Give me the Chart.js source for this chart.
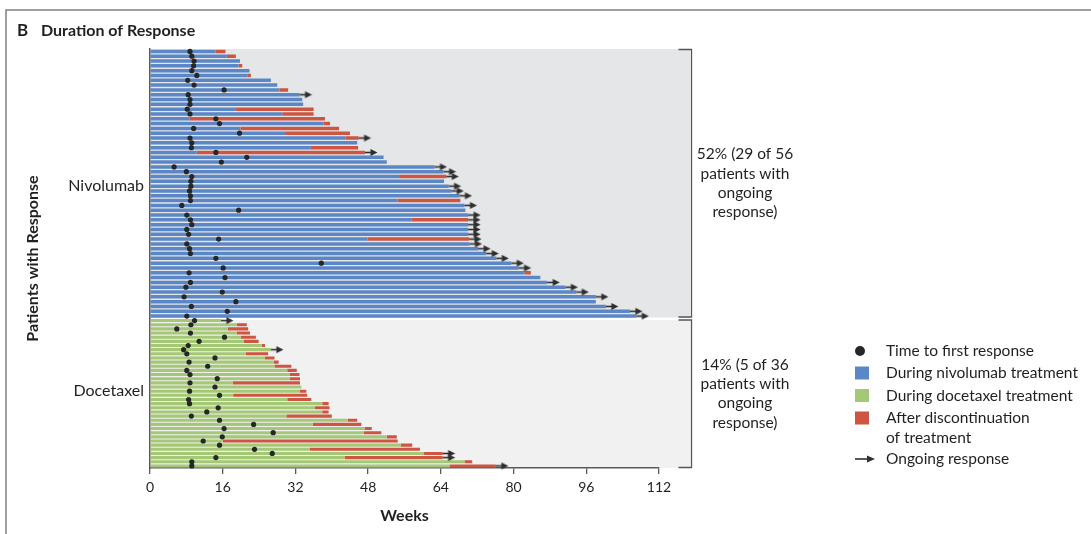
<!DOCTYPE html>
<html>
<head>
<meta charset="utf-8">
<script src="https://cdn.jsdelivr.net/npm/chart.js@4/dist/chart.umd.min.js"></script>
<style>
html,body{margin:0;padding:0;background:#fff;}
#wrap{position:relative;width:1091px;height:534px;}
canvas{display:block;}
</style>
</head>
<body>
<div id="wrap"><canvas id="c" width="1091" height="534"></canvas></div>
<script>
// ---------- DATA (weeks) ----------
const groupLabels = ['Nivolumab', 'Docetaxel'];
const xTicks = [0, 16, 32, 48, 64, 80, 96, 112];

// Nivolumab (56 patients, top to bottom)
const nivoTreatmentEnd = [14.4,16.9,19.8,19.5,21.9,21.4,26.6,28.0,28.5,32.9,
  33.5,33.7,18.9,29.1,8.7,38.2,19.9,29.7,43.0,45.6,
  35.4,10.3,51.4,52.1,62.6,64.6,54.8,64.7,65.7,66.3,
  68.1,54.5,69.2,69.4,70.0,57.5,70.0,70.0,70.0,47.9,
  70.3,72.2,74.0,76.2,79.5,81.1,82.4,85.9,87.4,91.4,
  93.8,98.1,98.1,100.3,105.6,107.0];
const nivoResponseEnd = [16.6,18.9,19.8,20.3,21.9,22.2,26.6,28.0,30.4,32.9,
  33.5,33.7,36.0,36.0,38.5,39.6,41.6,44.0,45.9,45.6,
  45.8,47.3,51.4,52.1,62.6,64.6,65.2,64.7,65.7,66.3,
  68.1,68.3,69.2,69.4,70.0,70.0,70.0,70.0,70.0,70.2,
  70.3,72.2,74.0,76.2,79.5,81.1,83.8,85.9,87.4,91.4,
  93.8,98.1,98.1,100.3,105.6,107.0];
const nivoFirstResponse = [8.8,9.2,9.7,9.6,9.2,10.3,8.3,9.7,16.3,8.4,
  8.8,8.8,8.2,8.8,14.5,15.3,9.6,19.7,8.8,9.2,
  9.1,14.5,21.3,15.7,5.3,8.0,9.2,9.0,9.0,8.7,
  8.9,8.9,7.0,19.5,8.1,8.9,9.2,8.1,8.5,15.1,
  8.1,8.7,8.9,14.5,37.7,16.1,8.6,16.5,8.9,7.9,
  15.9,7.5,18.9,9.1,17.0,8.1];
const nivoOngoing = [0,0,0,0,0,0,0,0,0,1,
  0,0,0,0,0,0,0,0,1,0,
  0,1,0,0,1,1,1,0,1,1,
  1,0,1,0,1,1,1,1,1,1,
  1,1,1,1,1,1,0,0,1,1,
  1,1,0,1,1,1];

// Docetaxel (36 patients, top to bottom)
const doceTreatmentEnd = [15.6,19.1,17.1,19.1,20.0,20.6,24.6,26.6,21.1,25.3,
  27.2,27.4,30.2,30.7,30.7,18.2,33.3,33.0,18.3,30.2,
  37.9,36.3,37.9,30.0,43.5,35.8,47.2,47.0,52.1,16.0,
  55.2,35.1,60.3,42.8,69.2,65.9];
const doceResponseEnd = [15.6,21.3,21.6,22.0,23.3,23.9,25.3,26.6,26.0,27.4,
  28.3,31.1,32.3,32.9,33.0,33.0,33.3,34.4,34.6,35.5,
  39.3,39.5,39.3,40.0,45.6,46.5,48.8,50.9,54.3,54.5,
  57.7,59.4,64.4,64.4,70.9,76.1];
const doceFirstResponse = [9.8,9.0,5.9,8.9,16.4,10.8,8.4,7.4,8.1,14.3,
  8.6,12.7,8.1,8.8,14.8,8.8,14.3,8.7,15.3,8.5,
  8.7,15.0,12.5,9.1,15.3,22.8,16.3,27.1,15.9,11.7,
  15.3,23.0,26.9,14.5,9.2,9.2];
const doceOngoing = [1,0,0,0,0,0,0,1,0,0,
  0,0,0,0,0,0,0,0,0,0,
  0,0,0,0,0,0,0,0,0,0,
  0,0,1,1,0,1];

const nivoNote = ['52% (29 of 56', 'patients with', 'ongoing', 'response)'];
const doceNote = ['14% (5 of 36', 'patients with', 'ongoing', 'response)'];
const legendItems = ['Time to first response', 'During nivolumab treatment', 'During docetaxel treatment', ['After discontinuation', 'of treatment'], 'Ongoing response'];

// ---------- STYLE ----------
const C = {
  blue: '#5b87c6', green: '#a5c876', red: '#cd5541', dot: '#262626', arrow: '#2e2e2e',
  bgN: '#e5e6e8', bgD: '#f1f1f2', text: '#231f20', axis: '#5a5a5a', frame: '#808080'
};
const FONT = 'Lato';

const nivoPatients = nivoTreatmentEnd.map((_, i) => 'N' + (i + 1));
const docePatients = doceTreatmentEnd.map((_, i) => 'D' + (i + 1));

function makeArrow(color) {
  const c = document.createElement('canvas');
  c.width = 26; c.height = 9;
  const g = c.getContext('2d');
  g.strokeStyle = color; g.lineWidth = 1.6;
  g.beginPath(); g.moveTo(13, 4.5); g.lineTo(20, 4.5); g.stroke();
  g.fillStyle = color;
  g.beginPath(); g.moveTo(18.5, 1); g.lineTo(25.5, 4.5); g.lineTo(18.5, 8); g.closePath(); g.fill();
  return c;
}

function draw() {
  const arrowImg = makeArrow(C.arrow);
  const barCommon = { type: 'bar', xAxisID: 'x', grouped: false, barPercentage: 0.74, categoryPercentage: 1, borderWidth: 0 };
  const dotCommon = { type: 'scatter', xAxisID: 'x', pointRadius: 2.6, pointBackgroundColor: C.dot, pointBorderWidth: 0 };
  const arrowCommon = { type: 'scatter', xAxisID: 'x', pointStyle: arrowImg, pointRadius: 4, pointBorderWidth: 0 };

  const datasets = [
    Object.assign({}, dotCommon, { label: 'Time to first response', yAxisID: 'yN',
      data: nivoFirstResponse.map((v, i) => ({ x: v, y: nivoPatients[i] })) }),
    Object.assign({}, dotCommon, { label: 'Time to first response (docetaxel)', yAxisID: 'yD',
      data: doceFirstResponse.map((v, i) => ({ x: v, y: docePatients[i] })) }),
    Object.assign({}, arrowCommon, { label: 'Ongoing response', yAxisID: 'yN',
      data: nivoResponseEnd.map((v, i) => nivoOngoing[i] ? { x: v, y: nivoPatients[i] } : null).filter(Boolean) }),
    Object.assign({}, arrowCommon, { label: 'Ongoing response (docetaxel)', yAxisID: 'yD',
      data: doceResponseEnd.map((v, i) => doceOngoing[i] ? { x: v, y: docePatients[i] } : null).filter(Boolean) }),
    Object.assign({}, barCommon, { label: 'During nivolumab treatment', yAxisID: 'yN', backgroundColor: C.blue,
      data: nivoTreatmentEnd.map(v => [0, v]) }),
    Object.assign({}, barCommon, { label: 'After discontinuation of treatment', yAxisID: 'yN', backgroundColor: C.red,
      data: nivoResponseEnd.map((v, i) => v > nivoTreatmentEnd[i] ? [nivoTreatmentEnd[i], v] : null) }),
    Object.assign({}, barCommon, { label: 'During docetaxel treatment', yAxisID: 'yD', backgroundColor: C.green,
      data: doceTreatmentEnd.map(v => [0, v]) }),
    Object.assign({}, barCommon, { label: 'After discontinuation (docetaxel)', yAxisID: 'yD', backgroundColor: C.red,
      data: doceResponseEnd.map((v, i) => v > doceTreatmentEnd[i] ? [doceTreatmentEnd[i], v] : null) })
  ];

  const decor = {
    id: 'decor',
    beforeDraw(chart) {
      const { ctx, chartArea: ca, scales } = chart;
      const yN = scales.yN, yD = scales.yD;
      const right = ca.right + 31;
      ctx.save();
      ctx.fillStyle = C.bgN;
      ctx.fillRect(ca.left, yN.top, right - ca.left, yN.bottom - yN.top - 1);
      ctx.fillStyle = C.bgD;
      ctx.fillRect(ca.left, yD.top + 1.5, right - ca.left, yD.bottom - yD.top - 1.5);
      ctx.restore();
    },
    afterDraw(chart) {
      const { ctx, chartArea: ca, scales } = chart;
      const yN = scales.yN, yD = scales.yD;
      ctx.save();
      // frame
      ctx.strokeStyle = C.frame; ctx.lineWidth = 1.5;
      ctx.beginPath(); ctx.moveTo(6, 534); ctx.lineTo(6, 10); ctx.lineTo(1091, 10); ctx.stroke();
      // title
      ctx.fillStyle = C.text; ctx.textBaseline = 'alphabetic'; ctx.textAlign = 'left';
      ctx.font = 'bold 17px ' + FONT;
      ctx.fillText('B', 17, 35.5);
      ctx.font = 'bold 16px ' + FONT;
      ctx.fillText('Duration of Response', 41, 35.5);
      // y title
      ctx.save();
      ctx.translate(33, (yN.top + yD.bottom) / 2);
      ctx.rotate(-Math.PI / 2);
      ctx.textAlign = 'center'; ctx.textBaseline = 'middle';
      ctx.font = 'bold 16px ' + FONT;
      ctx.fillText('Patients with Response', 0, 0);
      ctx.restore();
      // brackets
      const bx = ca.right + 32.5;
      ctx.strokeStyle = '#555'; ctx.lineWidth = 1.3;
      const b1 = yN.top + 0.5, b2 = yN.bottom - 1.5, b3 = yD.top + 1.5, b4 = yD.bottom - 0.5;
      ctx.beginPath();
      ctx.moveTo(bx - 13, b1); ctx.lineTo(bx, b1); ctx.lineTo(bx, b2); ctx.lineTo(bx - 13, b2);
      ctx.moveTo(bx - 13, b3); ctx.lineTo(bx, b3); ctx.lineTo(bx, b4); ctx.lineTo(bx - 13, b4);
      ctx.stroke();
      // notes
      ctx.fillStyle = C.text; ctx.textAlign = 'center'; ctx.textBaseline = 'middle';
      ctx.font = '15.5px ' + FONT;
      const nx = ca.right + 86;
      const lh = 19.2;
      const c1 = (b1 + b2) / 2, c2 = (b3 + b4) / 2;
      nivoNote.forEach((t, i) => ctx.fillText(t, nx, c1 + (i - 1.5) * lh));
      doceNote.forEach((t, i) => ctx.fillText(t, nx, c2 + (i - 1.5) * lh));
      // legend
      ctx.textAlign = 'left';
      ctx.font = '15.5px ' + FONT;
      const lx = 855, tx = 886;
      const ly = [351, 373, 395.5, 418, 459];
      ctx.fillStyle = C.dot;
      ctx.beginPath(); ctx.arc(lx + 5, ly[0], 5, 0, Math.PI * 2); ctx.fill();
      [C.blue, C.green, C.red].forEach((col, i) => {
        ctx.fillStyle = col; ctx.fillRect(lx, ly[i + 1] - 6.5, 14, 13);
      });
      ctx.strokeStyle = C.arrow; ctx.lineWidth = 1.6;
      ctx.beginPath(); ctx.moveTo(lx, ly[4]); ctx.lineTo(lx + 13, ly[4]); ctx.stroke();
      ctx.fillStyle = C.arrow;
      ctx.beginPath(); ctx.moveTo(lx + 12, ly[4] - 3.5); ctx.lineTo(lx + 20, ly[4]); ctx.lineTo(lx + 12, ly[4] + 3.5); ctx.closePath(); ctx.fill();
      ctx.fillStyle = C.text;
      ctx.fillText(legendItems[0], tx, ly[0]);
      ctx.fillText(legendItems[1], tx, ly[1]);
      ctx.fillText(legendItems[2], tx, ly[2]);
      ctx.fillText(legendItems[3][0], tx, ly[3]);
      ctx.fillText(legendItems[3][1], tx, ly[3] + 19.5);
      ctx.fillText(legendItems[4], tx, ly[4]);
      ctx.restore();
    }
  };

  new Chart(document.getElementById('c'), {
    type: 'bar',
    data: { datasets },
    plugins: [decor],
    options: {
      indexAxis: 'y',
      responsive: false,
      animation: false,
      events: [],
      devicePixelRatio: 1,
      layout: { padding: { top: 49, right: 432, bottom: 0, left: 0 } },
      plugins: { legend: { display: false }, tooltip: { enabled: false }, title: { display: false } },
      scales: {
        x: {
          type: 'linear', axis: 'x', position: 'bottom', min: 0, max: 112,
          afterBuildTicks: s => { s.ticks = xTicks.map(v => ({ value: v })); },
          afterFit: s => { s.height = 66; },
          ticks: { color: C.text, font: { family: FONT, size: 14 }, padding: 5, maxRotation: 0 },
          grid: { display: true, drawOnChartArea: false, drawTicks: true, tickLength: 6, color: C.axis, lineWidth: 1.3 },
          border: { display: true, color: C.axis, width: 1.5 },
          title: { display: true, text: 'Weeks', color: C.text, font: { family: FONT, size: 16, weight: 'bold' }, padding: { top: 4, bottom: 9 } }
        },
        yN: {
          type: 'category', axis: 'y', position: 'left', labels: nivoPatients, offset: true,
          stack: 'rows', stackWeight: 269.5, weight: 2,
          afterFit: s => { s.width = 150; },
          ticks: { autoSkip: false, color: C.text, font: { family: FONT, size: 16 }, padding: 6,
            callback: (v, i) => i === 28 ? groupLabels[0] : '' },
          grid: { display: false, drawTicks: false },
          border: { display: true, color: C.axis, width: 1.5 }
        },
        yD: {
          type: 'category', axis: 'y', position: 'left', labels: docePatients, offset: true,
          stack: 'rows', stackWeight: 149.5, weight: 1,
          afterFit: s => { s.width = 150; },
          ticks: { autoSkip: false, color: C.text, font: { family: FONT, size: 16 }, padding: 6,
            callback: (v, i) => i === 17 ? groupLabels[1] : '' },
          grid: { display: false, drawTicks: false },
          border: { display: true, color: C.axis, width: 1.5 }
        }
      }
    }
  });
}

const fontLoads = document.fonts ? Promise.all([
  document.fonts.load('16px ' + FONT), document.fonts.load('bold 16px ' + FONT)
]).catch(() => {}) : Promise.resolve();
fontLoads.then(draw, draw);
</script>
</body>
</html>
